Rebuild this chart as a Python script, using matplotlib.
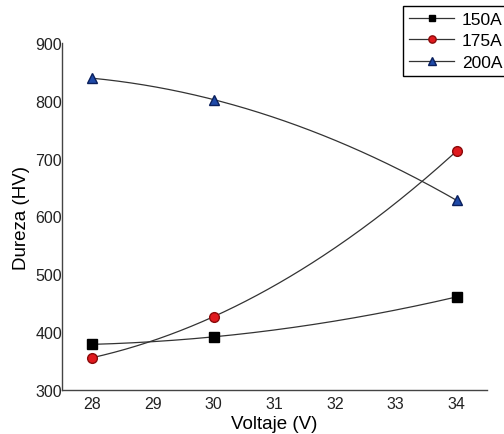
import numpy as np
import matplotlib
matplotlib.use("Agg")
import matplotlib.pyplot as plt

plt.rcParams['font.family'] = ['Liberation Sans', 'DejaVu Sans']

# Data
voltaje = [28, 30, 34]
dureza_150 = [379, 392, 461]
dureza_175 = [356, 427, 713]
dureza_200 = [839, 802, 628]
series_labels = ['150A', '175A', '200A']

fig = plt.figure(figsize=(5.04, 4.35), dpi=100)
ax = fig.add_axes([0.123, 0.101, 0.843, 0.798])

styles = [
    dict(marker='s', mfc='black', mec='black', ms=6.5),
    dict(marker='o', mfc='#e0191e', mec='#8a0a0a', ms=7),
    dict(marker='^', mfc='#1f4aa8', mec='#0a1f5c', ms=7.5),
]

xs = np.linspace(voltaje[0], voltaje[-1], 200)
handles = []
for ys, st, lab in zip([dureza_150, dureza_175, dureza_200], styles, series_labels):
    # smooth curve through the three points
    coef = np.polyfit(voltaje, ys, 2)
    ax.plot(xs, np.polyval(coef, xs), color='#333333', lw=0.9, zorder=2)
    ax.plot(voltaje, ys, ls='none', zorder=3, **st)
    h, = ax.plot([], [], color='#333333', lw=0.9, marker=st['marker'],
                 mfc=st['mfc'], mec=st['mec'], ms=st['ms'] * 0.75)
    handles.append(h)

ax.set_xlim(27.5, 34.5)
ax.set_ylim(300, 900)
ax.set_xticks(range(28, 35))
ax.set_yticks(range(300, 901, 100))
ax.tick_params(length=0, labelsize=11.5, colors='#222222')
ax.tick_params(axis='y', pad=0)
ax.tick_params(axis='x', pad=4)
for s in ['top', 'right']:
    ax.spines[s].set_visible(False)
for s in ['left', 'bottom']:
    ax.spines[s].set_color('#444444')
    ax.spines[s].set_linewidth(1.0)

ax.set_xlabel('Voltaje (V)', fontsize=13.5, labelpad=3)
ax.set_ylabel('Dureza (HV)', fontsize=13.5, labelpad=4)

# legend box runs past the right edge of the figure, as in the original
leg = fig.legend(handles, series_labels, loc='upper left',
                 bbox_to_anchor=(403 / 504, 1 - 7 / 435), fontsize=12.5,
                 frameon=True, fancybox=False, edgecolor='black',
                 handlelength=2.6, handletextpad=0.45, borderpad=0.35,
                 labelspacing=0.35, borderaxespad=0, framealpha=1)
leg.get_frame().set_linewidth(1.0)

fig.savefig('out.png', dpi=100)
